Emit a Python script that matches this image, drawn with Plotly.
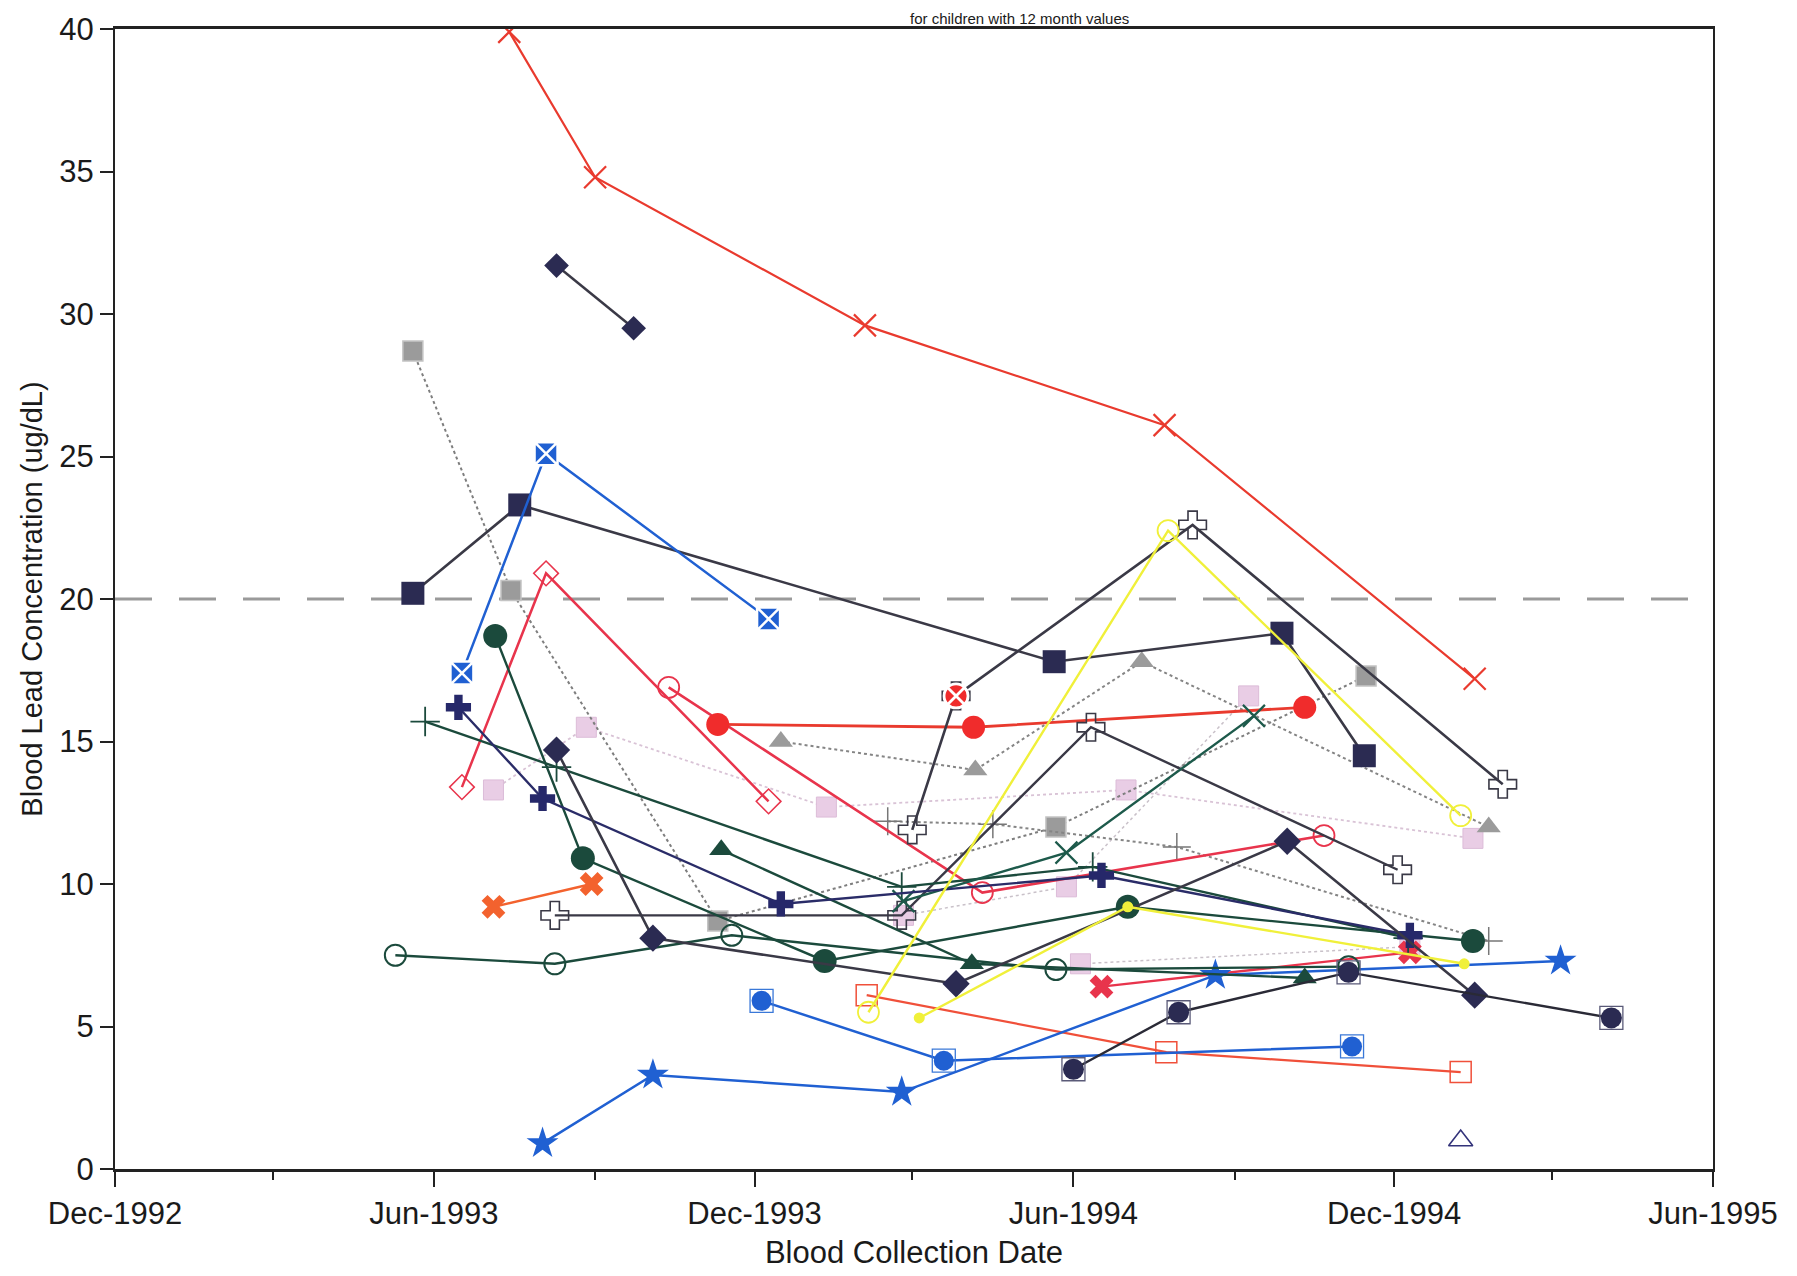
import plotly.graph_objects as go

# ---------------- data ----------------
red_x_dates = ["1993-07-14", "1993-09-01", "1994-02-02", "1994-07-23", "1995-01-16"]
red_x_vals = [39.9, 34.8, 29.6, 26.1, 17.2]

navy_pair_dates = ["1993-08-10", "1993-09-23"]
navy_pair_vals = [31.7, 29.5]

gray_sq_dates = ["1993-05-20", "1993-07-15", "1993-11-10", "1994-05-22", "1994-11-15"]
gray_sq_vals = [28.7, 20.3, 8.7, 12.0, 17.3]

gray_tri_dates = ["1993-12-16", "1994-04-06", "1994-07-10", "1995-01-24"]
gray_tri_vals = [15.0, 14.0, 17.8, 12.0]

navy_sq_dates = ["1993-05-20", "1993-07-20", "1994-05-21", "1994-09-28", "1994-11-14"]
navy_sq_vals = [20.2, 23.3, 17.8, 18.8, 14.5]

blue_xsq_dates = ["1993-06-17", "1993-08-04", "1993-12-09"]
blue_xsq_vals = [17.4, 25.1, 19.3]

red_odia_dates = ["1993-06-17", "1993-08-04", "1993-12-09"]
red_odia_vals = [13.4, 20.9, 12.9]

red_ocirc_dates = ["1993-10-13", "1994-04-10", "1994-10-22"]
red_ocirc_vals = [16.9, 9.7, 11.7]

red_circ_dates = ["1993-11-10", "1994-04-05", "1994-10-11"]
red_circ_vals = [15.6, 15.5, 16.2]

ocross_a_dates = ["1993-08-09", "1994-02-23", "1994-06-11", "1994-12-03"]
ocross_a_vals = [8.9, 8.9, 15.5, 10.5]

ocross_b_dates = ["1994-03-01", "1994-03-26", "1994-08-08", "1995-02-01"]
ocross_b_vals = [11.9, 16.6, 22.6, 13.5]

red_cx_dates = ["1994-03-26"]
red_cx_vals = [16.6]

pink_a_dates = ["1993-07-05", "1993-08-27", "1994-01-11", "1994-07-01", "1995-01-15"]
pink_a_vals = [13.3, 15.5, 12.7, 13.3, 11.6]

pink_b_dates = ["1994-02-24", "1994-05-28", "1994-09-09"]
pink_b_vals = [8.9, 9.9, 16.6]

pink_c_dates = ["1994-06-05", "1994-12-10"]
pink_c_vals = [7.2, 7.8]

crimson_x_dates = ["1994-06-17", "1994-12-10"]
crimson_x_vals = [6.4, 7.6]

orange_x_dates = ["1993-07-05", "1993-08-30"]
orange_x_vals = [9.2, 10.0]

red_osq_dates = ["1994-02-03", "1994-07-24", "1995-01-08"]
red_osq_vals = [6.1, 4.1, 3.4]

blue_csq_dates = ["1993-12-05", "1994-03-19", "1994-11-07"]
blue_csq_vals = [5.9, 3.8, 4.3]

blue_star_dates = ["1993-08-02", "1993-10-04", "1994-02-23", "1994-08-21", "1995-03-06"]
blue_star_vals = [0.9, 3.3, 2.7, 6.8, 7.3]

navy_csq_dates = ["1994-06-01", "1994-07-31", "1994-11-05", "1995-04-04"]
navy_csq_vals = [3.5, 5.5, 6.9, 5.3]

green_ocirc_dates = ["1993-05-10", "1993-08-09", "1993-11-18", "1994-05-22", "1994-11-05"]
green_ocirc_vals = [7.5, 7.2, 8.2, 7.0, 7.1]

green_circ_dates = ["1993-07-06", "1993-08-25", "1994-01-10", "1994-07-02", "1995-01-15"]
green_circ_vals = [18.7, 10.9, 7.3, 9.2, 8.0]

green_tri_dates = ["1993-11-12", "1994-04-04", "1994-10-11"]
green_tri_vals = [11.2, 7.2, 6.7]

green_plus_dates = ["1993-05-27", "1993-08-10", "1994-02-23", "1994-06-12", "1994-12-09"]
green_plus_vals = [15.7, 14.1, 9.9, 10.6, 8.1]

gray_plus_dates = ["1994-02-15", "1994-04-16", "1994-07-30", "1995-01-24"]
gray_plus_vals = [12.2, 12.1, 11.3, 8.0]

teal_x_dates = ["1994-02-24", "1994-05-28", "1994-09-12"]
teal_x_vals = [9.4, 11.1, 15.9]

navy_cross_dates = ["1993-06-15", "1993-08-02", "1993-12-16", "1994-06-17", "1994-12-10"]
navy_cross_vals = [16.2, 13.0, 9.3, 10.3, 8.2]

navy_dia_dates = ["1993-08-10", "1993-10-04", "1994-03-26", "1994-10-01", "1995-01-16"]
navy_dia_vals = [14.7, 8.1, 6.5, 11.5, 6.1]

yellow_ocirc_dates = ["1994-02-04", "1994-07-25", "1995-01-08"]
yellow_ocirc_vals = [5.5, 22.4, 12.4]

yellow_dot_dates = ["1994-03-05", "1994-07-02", "1995-01-10"]
yellow_dot_vals = [5.3, 9.2, 7.2]

navy_otri_dates = ["1995-01-08"]
navy_otri_vals = [1.0]

reference_level = 20

x_range = ["1992-12-01", "1995-06-01"]
y_range = [0, 40]
y_ticks = [0, 5, 10, 15, 20, 25, 30, 35, 40]

# ---------------- styles ----------------
NAVY = "#2b2b52"
DARK = "#3a3946"
RED = "#e93a2e"
CRIMSON = "#e8344c"
BLUE = "#2060d2"
DKGREEN = "#1b4a3c"
TEAL = "#1d5a4b"
GRAY = "#9b9b9b"
PINK = "#e9cde5"
YELLOW = "#f0f03a"
ORANGE = "#f3622e"

fig = go.Figure()


def add(xs, ys, line_color, line_width, symbol, msize, mcolor,
        mline_color=None, mline_width=0, dash="solid", mode="lines+markers"):
    fig.add_trace(go.Scatter(
        x=xs, y=ys, mode=mode,
        line=dict(color=line_color, width=line_width, dash=dash),
        marker=dict(symbol=symbol, size=msize, color=mcolor,
                    line=dict(color=mline_color or mcolor, width=mline_width)),
        showlegend=False, hoverinfo="x+y"))


# dotted / light series first
add(pink_a_dates, pink_a_vals, "#d9c3d6", 1.8, "square", 20, PINK, "#dcbcd8", 1, dash="dot")
add(pink_b_dates, pink_b_vals, "#c9c1c9", 1.5, "square", 20, PINK, "#dcbcd8", 1, dash="dot")
add(pink_c_dates, pink_c_vals, "#c9c1c9", 1.5, "square", 20, PINK, "#dcbcd8", 1, dash="dot")
add(gray_sq_dates, gray_sq_vals, "#7e7e7e", 2, "square", 20, GRAY, "#c4c4c4", 1.5, dash="dot")
add(gray_tri_dates, gray_tri_vals, "#858585", 2, "triangle-up", 21, GRAY, GRAY, 0, dash="dot")
add(gray_plus_dates, gray_plus_vals, "#858585", 2, "cross-thin", 20, "#777777", "#777777", 1.5, dash="dot")

# solid series
add(red_x_dates, red_x_vals, RED, 2.2, "x-thin", 22, RED, RED, 2.2)
add(navy_pair_dates, navy_pair_vals, DARK, 2.5, "diamond", 19, NAVY, NAVY, 0)
add(navy_sq_dates, navy_sq_vals, DARK, 2.6, "square", 23, NAVY, NAVY, 0)
add(blue_xsq_dates, blue_xsq_vals, BLUE, 2.5, "square-x", 23, BLUE, "white", 2.5)
add(red_odia_dates, red_odia_vals, CRIMSON, 2.5, "diamond-open", 19, CRIMSON, CRIMSON, 1.5)
add(red_ocirc_dates, red_ocirc_vals, CRIMSON, 2.6, "circle-open", 21, CRIMSON, CRIMSON, 1.8)
add(red_circ_dates, red_circ_vals, RED, 2.8, "circle", 23, "#f02c2c", "#f02c2c", 0)
add(ocross_a_dates, ocross_a_vals, DARK, 2.4, "cross-open", 23, DARK, DARK, 1.6)
add(ocross_b_dates, ocross_b_vals, DARK, 2.6, "cross-open", 23, DARK, DARK, 1.6)
add(red_cx_dates, red_cx_vals, RED, 2, "circle-x", 24, "#f02c2c", "white", 2.8, mode="markers")
add(crimson_x_dates, crimson_x_vals, CRIMSON, 2.4, "x", 21, CRIMSON, CRIMSON, 0)
add(orange_x_dates, orange_x_vals, ORANGE, 2.4, "x", 21, ORANGE, ORANGE, 0)
add(red_osq_dates, red_osq_vals, "#f0503a", 2.2, "square-open", 21, "#f0503a", "#f0503a", 1.5)
add(blue_csq_dates, blue_csq_vals, BLUE, 2.5, "circle", 20, BLUE, BLUE, 0)
add(blue_csq_dates, blue_csq_vals, BLUE, 0, "square-open", 23, "#3a78d8", "#3a78d8", 1.3, mode="markers")
add(blue_star_dates, blue_star_vals, BLUE, 2.5, "star", 24, BLUE, BLUE, 0)
add(green_ocirc_dates, green_ocirc_vals, DKGREEN, 2.4, "circle-open", 21, DKGREEN, DKGREEN, 2)
add(green_circ_dates, green_circ_vals, DKGREEN, 2.4, "circle", 24, DKGREEN, DKGREEN, 0)
add(green_tri_dates, green_tri_vals, DKGREEN, 2.4, "triangle-up", 21, DKGREEN, DKGREEN, 0)
add(green_plus_dates, green_plus_vals, DKGREEN, 2.4, "cross-thin", 21, DKGREEN, DKGREEN, 1.8)
add(teal_x_dates, teal_x_vals, TEAL, 2.4, "x-thin", 22, TEAL, TEAL, 2.2)
add(navy_cross_dates, navy_cross_vals, "#2a2c68", 2.4, "cross", 21, "#26286a", "#26286a", 0)
add(navy_dia_dates, navy_dia_vals, DARK, 2.6, "diamond", 21, NAVY, NAVY, 0)
add(navy_csq_dates, navy_csq_vals, "#2a2a36", 2.4, "circle", 21, NAVY, NAVY, 0)
add(navy_csq_dates, navy_csq_vals, NAVY, 0, "square-open", 23, "#5a5a78", "#5a5a78", 1.3, mode="markers")
add(yellow_ocirc_dates, yellow_ocirc_vals, YELLOW, 2.4, "circle-open", 21, YELLOW, YELLOW, 1.8)
add(yellow_dot_dates, yellow_dot_vals, YELLOW, 2.4, "circle", 11, YELLOW, YELLOW, 0)
add(navy_otri_dates, navy_otri_vals, NAVY, 0, "triangle-up-open", 21, "#33337a", "#33337a", 1.6, mode="markers")

# dashed reference level
fig.add_shape(type="line", xref="paper", yref="y", x0=0.0, x1=0.985,
              y0=reference_level, y1=reference_level,
              line=dict(color="#9a9a9a", width=3, dash="37px,27px"), layer="below")

FONT = "Liberation Sans, Arial, sans-serif"

fig.update_layout(
    width=1797, height=1276,
    margin=dict(l=107, r=92, t=21, b=115),
    paper_bgcolor="white", plot_bgcolor="white",
    font=dict(family=FONT, color="#1a1a1a"),
    xaxis=dict(
        type="date", range=x_range, tick0="1992-12-01", dtick="M6",
        tickformat="%b-%Y", ticks="outside", ticklen=15, tickwidth=1.5,
        tickcolor="#222", showgrid=False, zeroline=False, automargin=False,
        showline=True, linecolor="#222", linewidth=3, mirror=True,
        tickfont=dict(size=31, family=FONT, color="#1a1a1a"),
        minor=dict(tick0="1992-12-01", dtick="M3", ticks="outside", ticklen=8,
                   tickwidth=1.5, tickcolor="#222"),
        title=dict(text="Blood Collection Date", font=dict(size=31, family=FONT), standoff=12),
    ),
    yaxis=dict(
        range=y_range, tickvals=y_ticks, ticks="outside", ticklen=13, tickwidth=1.5,
        tickcolor="#222", showgrid=False, zeroline=False, automargin=False,
        showline=True, linecolor="#222", linewidth=2, mirror=True,
        tickfont=dict(size=31, family=FONT, color="#1a1a1a"),
        title=dict(text="Blood Lead Concentration (ug/dL)", font=dict(size=29, family=FONT), standoff=8),
    ),
)

fig.add_annotation(text="for children with 12 month values", xref="paper", yref="paper",
                   x=0.566, y=1, yanchor="bottom", yshift=1, showarrow=False,
                   borderpad=0, font=dict(size=15, family=FONT, color="#1a1a1a"))

fig.write_html("out.html")
